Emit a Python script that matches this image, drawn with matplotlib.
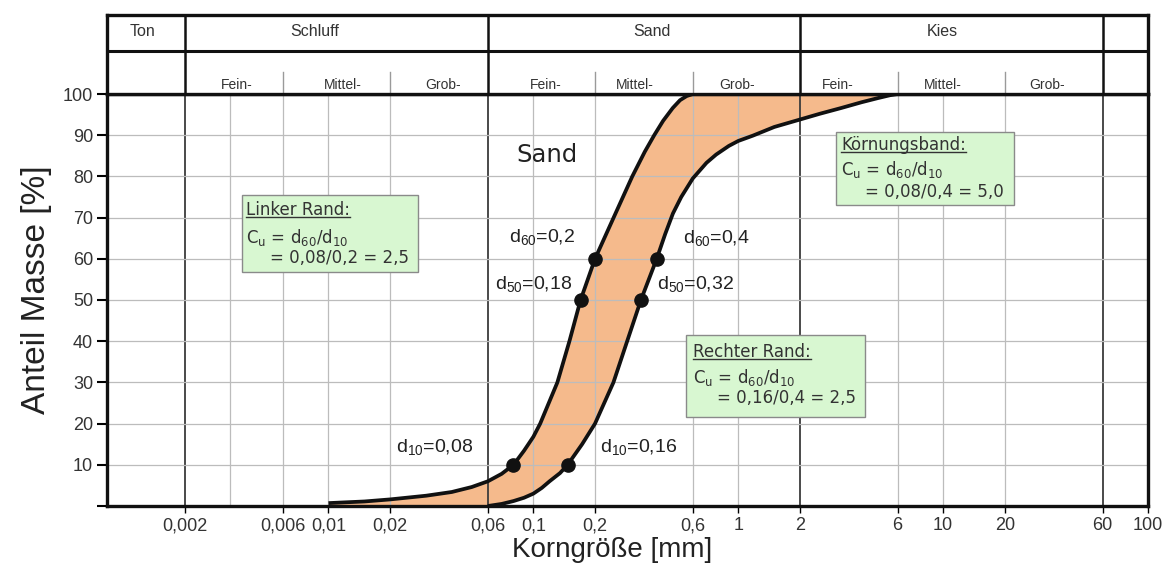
import matplotlib
matplotlib.use('Agg')
import matplotlib.pyplot as plt
from matplotlib.patches import Rectangle
from matplotlib.lines import Line2D
from matplotlib.transforms import IdentityTransform
from matplotlib.ticker import NullLocator

plt.rcParams['font.family'] = ['Liberation Sans', 'DejaVu Sans']
plt.rcParams['mathtext.fontset'] = 'custom'
plt.rcParams['mathtext.rm'] = 'Liberation Sans'
plt.rcParams['mathtext.it'] = 'Liberation Sans:italic'
plt.rcParams['mathtext.bf'] = 'Liberation Sans:bold'

# Sieblinien: linker und rechter Rand des Körnungsbandes (Korngröße mm, Anteil %)
left_x = [0.01, 0.015, 0.02, 0.03, 0.04, 0.05, 0.06, 0.07, 0.08, 0.09, 0.1, 0.108,
          0.131, 0.15, 0.17, 0.2, 0.2465, 0.304, 0.35, 0.389, 0.43, 0.479,
          0.52, 0.56, 0.6]
left_y = [0.7, 1.1, 1.6, 2.5, 3.4, 4.6, 6.0, 7.8, 10, 13.4, 16.8, 20,
          30, 40, 50, 60, 70, 80, 86, 90, 93.5, 96.6,
          98.5, 99.5, 100]
right_x = [0.06, 0.07, 0.08, 0.09, 0.1, 0.11, 0.12, 0.135, 0.147, 0.173, 0.2,
           0.246, 0.287, 0.335, 0.4, 0.44, 0.48, 0.527, 0.6, 0.7, 0.78, 0.9, 1.0,
           1.18, 1.5, 2, 2.5, 3.18, 4, 4.8, 5.5, 6]
right_y = [0, 0.5, 1.2, 2.0, 3.0, 4.4, 6.0, 8.0, 10, 15, 20,
           30, 40, 50, 60, 66, 71, 75, 79.5, 83.3, 85.3, 87.4, 88.6,
           89.9, 92, 93.8, 95.2, 96.6, 98, 99, 99.7, 100]

# Kennkörner d10, d50, d60
d_left_x = [0.08, 0.17, 0.2]
d_right_x = [0.147, 0.335, 0.4]
d_y = [10, 50, 60]

tick_vals = [0.002, 0.006, 0.01, 0.02, 0.06, 0.1, 0.2, 0.6, 1, 2, 6, 10, 20, 60, 100]
tick_labels = ['0,002', '0,006', '0,01', '0,02', '0,06', '0,1', '0,2', '0,6',
               '1', '2', '6', '10', '20', '60', '100']
y_ticks = [0, 10, 20, 30, 40, 50, 60, 70, 80, 90, 100]
y_labels = ['', '10', '20', '30', '40', '50', '60', '70', '80', '90', '100']

main_bounds = [0.002, 0.06, 2, 60]
sub_bounds = [0.006, 0.02, 0.2, 0.6, 6, 20]
light_grid = [0.0033, 0.006, 0.01, 0.02, 0.1, 0.2, 0.6, 1, 6, 10, 20]

main_classes = ['Ton', 'Schluff', 'Sand', 'Kies']
main_class_x = [0.00124, 0.0086, 0.379, 9.87]
sub_classes = ['Fein-', 'Mittel-', 'Grob-'] * 3
sub_class_x = [0.00357, 0.0118, 0.0362, 0.115, 0.313, 0.985, 3.07, 9.98, 32.1]

xlim = (0.00083, 100)

fig = plt.figure(figsize=(11.68, 5.67), dpi=100)
ax = fig.add_axes([107 / 1168, 61 / 567, 1041 / 1168, 412 / 567])
hx = fig.add_axes([107 / 1168, 473 / 567, 1041 / 1168, 79 / 567])

# --- Kopfzeile mit Bodenarten
hx.set_xscale('log')
hx.set_xlim(xlim)
hx.set_ylim(0, 1)
hx.set_xticks([])
hx.set_yticks([])
hx.xaxis.set_minor_locator(NullLocator())
for s in hx.spines.values():
    s.set_linewidth(2.4)
    s.set_color('#111')
hx.axhline(0.544, color='#111', lw=2.2)
for b in main_bounds:
    hx.axvline(b, color='#111', lw=1.8)
for b in sub_bounds:
    hx.plot([b, b], [0, 0.278], color='#9a9a9a', lw=1)
for name, x in zip(main_classes, main_class_x):
    hx.text(x, 0.785, name, ha='center', va='center', fontsize=11.5, color='#333')
for name, x in zip(sub_classes, sub_class_x):
    hx.text(x, 0.12, name, ha='center', va='center', fontsize=10, color='#333')

# --- Diagramm
ax.set_xscale('log')
ax.set_xlim(xlim)
ax.set_ylim(0, 100)
ax.xaxis.set_minor_locator(NullLocator())
ax.set_xticks(tick_vals, labels=tick_labels)
ax.set_yticks(y_ticks, labels=y_labels)
ax.tick_params(axis='y', length=7, width=1.5, pad=3, labelsize=13, labelcolor='#333')
ax.tick_params(axis='x', length=5, width=1, pad=3, labelsize=13, labelcolor='#333')
ax.grid(axis='y', color='#bcbcbc', lw=0.9, zorder=1.5)
ax.set_axisbelow(False)
for s in ax.spines.values():
    s.set_linewidth(2.4)
    s.set_color('#111')
    s.set_zorder(6)

for v in light_grid:
    ax.axvline(v, color='#bcbcbc', lw=0.9, zorder=1.5)
for v in main_bounds:
    ax.axvline(v, color='#3c3c3c', lw=1.3, zorder=1.5)

poly_x = left_x + right_x[::-1] + [left_x[0]]
poly_y = left_y + right_y[::-1] + [0]
ax.fill(poly_x, poly_y, color='#f5ba8c', lw=0, zorder=1)
ax.plot(left_x, left_y, color='#111', lw=2.7, solid_capstyle='butt',
        solid_joinstyle='round', zorder=3)
ax.plot(right_x, right_y, color='#111', lw=2.7, solid_capstyle='butt',
        solid_joinstyle='round', zorder=3)
ax.plot(d_left_x, d_y, 'o', color='#111', ms=9.5, zorder=4)
ax.plot(d_right_x, d_y, 'o', color='#111', ms=9.5, zorder=4)

ax.text(0.1167, 85.2, 'Sand', ha='center', va='center', fontsize=17.5,
        family='DejaVu Sans', color='#222')

dlab = dict(fontsize=14, color='#222', va='center')
ax.text(0.1596, 65.3, r'd$_{\mathrm{60}}$=0,2', ha='right', **dlab)
ax.text(0.154, 53.9, r'd$_{\mathrm{50}}$=0,18', ha='right', **dlab)
ax.text(0.0213, 14.3, r'd$_{\mathrm{10}}$=0,08', ha='left', **dlab)
ax.text(0.537, 65.0, r'd$_{\mathrm{60}}$=0,4', ha='left', **dlab)
ax.text(0.401, 53.9, r'd$_{\mathrm{50}}$=0,32', ha='left', **dlab)
ax.text(0.2113, 14.3, r'd$_{\mathrm{10}}$=0,16', ha='left', **dlab)

ax.set_xlabel('Korngröße [mm]', fontsize=20, color='#222')
ax.xaxis.set_label_coords(0.485, -0.075)
ax.set_ylabel('Anteil Masse [%]', fontsize=24, color='#222')
ax.yaxis.set_label_coords(-0.0529, 0.524)


def axpos(px, py):
    return (px - 107) / 1041, (506 - py) / 412


# Textboxen: Überschrift, Ergebnis, Box (links, oben, rechts, unten), Textanfang, Grundlinien
boxes = [
    ('Linker Rand:', '= 0,08/0,2 = 2,5', (242, 195, 418, 272), 246, (215, 242.7, 263.3)),
    ('Rechter Rand:', '= 0,16/0,4 = 2,5', (686, 335, 865, 417), 693, (356.7, 382.7, 403.3)),
    ('Körnungsband:', '= 0,08/0,4 = 5,0', (836, 132, 1014, 205), 841, (150, 175, 196.7)),
]
btxt = dict(fontsize=12, color='#333', family='DejaVu Sans', ha='left', va='baseline',
            transform=ax.transAxes, zorder=7, math_fontfamily='dejavusans')
headings = []
for head, result, (l, t, r, b), tx, (b1, b2, b3) in boxes:
    x0, y0 = axpos(l, b)
    x1, y1 = axpos(r, t)
    ax.add_patch(Rectangle((x0, y0), x1 - x0, y1 - y0, transform=ax.transAxes,
                           facecolor='#d8f7d1', edgecolor='#8a8a8a', lw=1, zorder=6))
    headings.append(ax.text(*axpos(tx, b1), head, **btxt))
    ax.text(*axpos(tx, b2), r'C$_\mathrm{u}$ = d$_\mathrm{60}$/d$_\mathrm{10}$', **btxt)
    ax.text(*axpos(tx + 24, b3), result, **btxt)

fig.canvas.draw()
renderer = fig.canvas.get_renderer()
for h in headings:
    bb = h.get_window_extent(renderer)
    yb = ax.transAxes.transform(h.get_position())[1] - 2
    fig.add_artist(Line2D([bb.x0, bb.x1], [yb, yb], transform=IdentityTransform(),
                          color='#333', lw=1, zorder=8))

fig.savefig('out.png', dpi=100)
